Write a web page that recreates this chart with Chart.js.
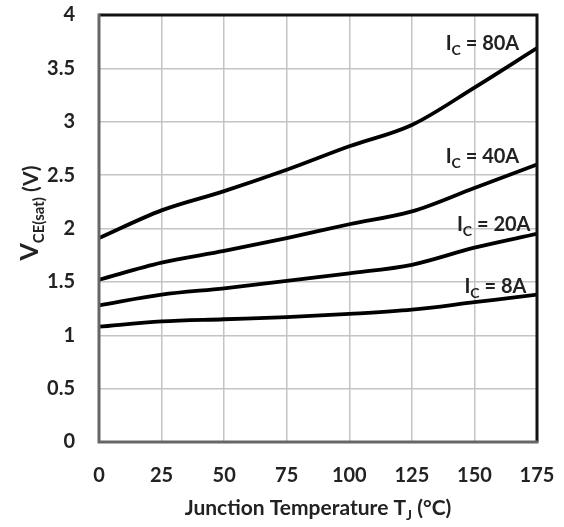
<!DOCTYPE html>
<html>
<head>
<meta charset="utf-8">
<script src="https://cdn.jsdelivr.net/npm/chart.js@4/dist/chart.umd.min.js"></script>
<style>
  html, body { margin: 0; padding: 0; background: #fff; }
  #wrap { width: 564px; height: 527px; }
</style>
</head>
<body>
<div id="wrap"><canvas id="vceChart" width="564" height="527"></canvas></div>
<script>
// Junction temperature (°C) and VCE(sat) (V) per collector current
const tempPoints = [0, 25, 50, 75, 100, 125, 150, 175];
const vce80A = [1.91, 2.17, 2.35, 2.55, 2.77, 2.97, 3.32, 3.69];
const vce40A = [1.52, 1.68, 1.79, 1.91, 2.04, 2.16, 2.38, 2.60];
const vce20A = [1.28, 1.38, 1.44, 1.51, 1.58, 1.66, 1.82, 1.95];
const vce8A = [1.08, 1.13, 1.15, 1.17, 1.20, 1.24, 1.31, 1.38];
const seriesNames = ['80A', '40A', '20A', '8A'];
// where each label starts, in data units (x, y of baseline)
const labelAnchors = [[138.5, 3.67], [138.5, 2.61], [143, 1.98], [146, 1.40]];

const FONT = 'Lato, "Open Sans", sans-serif';

function toPoints(values) {
    return values.map((v, i) => ({ x: tempPoints[i], y: v }));
}

// Draw text with a subscript part
function drawSub(ctx, parts, x, y, align) {
    // parts: [[text, size, dy]]
    let total = 0;
    parts.forEach(p => {
        ctx.font = `bold ${p[1]}px ${FONT}`;
        total += ctx.measureText(p[0]).width;
    });
    let cx = align === 'center' ? x - total / 2 : x;
    parts.forEach(p => {
        ctx.font = `bold ${p[1]}px ${FONT}`;
        ctx.fillText(p[0], cx, y + p[2]);
        cx += ctx.measureText(p[0]).width;
    });
}

const decorPlugin = {
    id: 'decor',
    afterDraw(chart) {
        const ctx = chart.ctx;
        const a = chart.chartArea;
        const xs = chart.scales.x;
        const ys = chart.scales.y;
        ctx.save();

        // frame: gray on left/bottom, black on top/right
        ctx.lineWidth = 3;
        ctx.strokeStyle = '#111';
        ctx.beginPath();
        ctx.moveTo(a.left, a.top);
        ctx.lineTo(a.right, a.top);
        ctx.lineTo(a.right, a.bottom);
        ctx.stroke();
        ctx.strokeStyle = '#666';
        ctx.beginPath();
        ctx.moveTo(a.left, a.top - 1.5);
        ctx.lineTo(a.left, a.bottom);
        ctx.lineTo(a.right + 1.5, a.bottom);
        ctx.stroke();

        ctx.fillStyle = '#222';
        ctx.textBaseline = 'alphabetic';

        // series labels
        seriesNames.forEach((name, i) => {
            const px = xs.getPixelForValue(labelAnchors[i][0]);
            const py = ys.getPixelForValue(labelAnchors[i][1]);
            drawSub(ctx, [['I', 20, 0], ['C', 14, 5], [' = ' + name, 20, 0]], px, py, 'left');
        });

        // x axis title
        drawSub(ctx, [['Junction Temperature T', 21, 0], ['J', 14, 5], [' (°C)', 21, 0]],
            318, 515, 'center');

        // y axis title (rotated)
        ctx.translate(38, 213);
        ctx.rotate(-Math.PI / 2);
        drawSub(ctx, [['V', 25, 0], ['CE(sat)', 15, 6], [' (V)', 21, 0]], 0, 0, 'center');

        ctx.restore();
    }
};

const makeSet = (values) => ({
    data: toPoints(values),
    borderColor: '#000',
    borderWidth: 3.8,
    pointRadius: 0,
    fill: false,
    cubicInterpolationMode: 'monotone'
});

const ctx = document.getElementById('vceChart').getContext('2d');
const vceChart = new Chart(ctx, {
    type: 'line',
    data: {
        datasets: [makeSet(vce80A), makeSet(vce40A), makeSet(vce20A), makeSet(vce8A)]
    },
    options: {
        responsive: false,
        animation: false,
        layout: { padding: { left: 0, right: 27, top: 15, bottom: 0 } },
        plugins: {
            legend: { display: false },
            tooltip: { enabled: false }
        },
        scales: {
            x: {
                type: 'linear',
                min: 0,
                max: 175,
                afterFit: function(scale) {
                    scale.height = 85;
                    scale.paddingLeft = 0;
                    scale.paddingRight = 0;
                },
                ticks: {
                    stepSize: 25,
                    padding: 22,
                    color: '#222',
                    maxRotation: 0,
                    font: { family: FONT, size: 20, weight: 'bold' }
                },
                grid: { color: '#c4c4c4', lineWidth: 1.5, drawTicks: false },
                border: { display: false }
            },
            y: {
                min: 0,
                max: 4,
                afterFit: function(scale) {
                    scale.width = 99;
                    scale.paddingTop = 0;
                    scale.paddingBottom = 0;
                },
                ticks: {
                    stepSize: 0.5,
                    padding: 24,
                    color: '#222',
                    font: { family: FONT, size: 20, weight: 'bold' },
                    callback: function(value) { return String(value); }
                },
                grid: { color: '#c4c4c4', lineWidth: 1.5, drawTicks: false },
                border: { display: false }
            }
        }
    },
    plugins: [decorPlugin]
});
</script>
</body>
</html>
